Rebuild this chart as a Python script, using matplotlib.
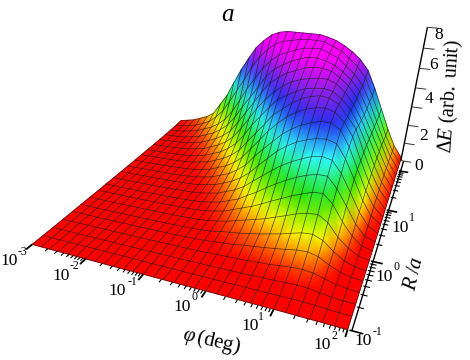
import numpy as np, matplotlib
matplotlib.use('Agg')
import matplotlib.pyplot as plt
from matplotlib.colors import LinearSegmentedColormap, Normalize
from matplotlib.collections import LineCollection
from mpl_toolkits.mplot3d import proj3d

# surface axes: decades of phi (deg) and of R/a
log_phi = [-3, -2.83, -2.67, -2.5, -2.33, -2.17, -2, -1.83, -1.67, -1.5, -1.33, -1.17, -1, -0.83, -0.67, -0.5,
           -0.33, -0.17, 0, 0.17, 0.33, 0.5, 0.67, 0.83, 1, 1.17, 1.33, 1.5, 1.67, 1.83, 2]
log_r = [-1, -0.83, -0.67, -0.5, -0.33, -0.17, 0, 0.17, 0.33, 0.5, 0.67, 0.83, 1, 1.17, 1.33, 1.5, 1.67, 1.83, 2, 2.17, 2.33]
# Delta E, one row per log_r, one value per log_phi
delta_e = [
 [0,0,0,0,0,0,0,0,0,0,0,.01,.01,.01,.01,.01,.01,.01,.02,.02,.02,.02,.02,.02,.02,.02,.01,.01,.01,0,0],
 [0,0,0,0,.01,.01,.01,.01,.01,.02,.02,.02,.02,.03,.03,.03,.03,.04,.04,.04,.05,.05,.06,.06,.07,.08,.08,.06,.03,.01,0],
 [0,0,0,.01,.01,.01,.02,.02,.02,.03,.03,.04,.04,.05,.05,.06,.07,.08,.09,.1,.11,.13,.15,.17,.2,.22,.2,.12,.05,.02,0],
 [0,0,.01,.01,.01,.02,.02,.03,.03,.04,.05,.06,.07,.08,.09,.1,.12,.15,.17,.2,.22,.26,.3,.36,.42,.45,.4,.25,.1,.03,0],
 [0,.01,.01,.01,.02,.02,.03,.03,.04,.05,.06,.07,.08,.1,.12,.15,.2,.25,.3,.4,.45,.52,.6,.68,.78,.82,.7,.4,.17,.05,0],
 [.01,.01,.01,.02,.02,.03,.03,.04,.05,.06,.07,.08,.1,.12,.15,.2,.3,.38,.45,.55,.65,.78,.9,1.05,1.2,1.25,1.05,.6,.25,.08,.01],
 [.01,.01,.02,.02,.03,.03,.04,.05,.06,.07,.08,.1,.12,.15,.2,.3,.4,.55,.7,.85,1.0,1.2,1.4,1.6,1.75,1.8,1.5,.85,.4,.12,.01],
 [.01,.02,.02,.03,.03,.04,.05,.06,.07,.08,.1,.12,.15,.2,.3,.4,.6,.8,1.0,1.25,1.5,1.75,2.0,2.2,2.4,2.45,2.0,1.2,.55,.15,.01],
 [.02,.02,.03,.03,.04,.05,.06,.07,.08,.1,.12,.15,.2,.3,.4,.6,.8,1.1,1.4,1.75,2.05,2.35,2.6,2.8,2.95,2.95,2.4,1.6,.75,.2,.02],
 [.02,.03,.03,.04,.05,.06,.07,.08,.1,.12,.15,.2,.3,.4,.6,.8,1.1,1.5,1.9,2.3,2.65,2.95,3.2,3.4,3.5,3.4,2.8,1.9,.95,.3,.02],
 [.03,.03,.04,.05,.06,.07,.08,.1,.12,.15,.2,.3,.4,.6,.8,1.1,1.5,2.0,2.5,3.0,3.35,3.65,3.85,4.0,4.05,3.9,3.2,2.2,1.15,.4,.03],
 [.03,.04,.05,.06,.07,.08,.1,.12,.15,.2,.3,.4,.6,.8,1.1,1.5,2.1,2.6,3.1,3.6,3.95,4.25,4.45,4.6,4.6,4.3,3.5,2.4,1.3,.5,.03],
 [.04,.05,.06,.07,.08,.1,.12,.15,.2,.3,.4,.6,.8,1.1,1.5,2.1,2.7,3.3,3.8,4.25,4.55,4.8,4.95,5.0,4.85,4.4,3.7,2.5,1.4,.6,.04],
 [.05,.06,.07,.08,.1,.12,.15,.2,.3,.4,.6,.8,1.1,1.5,2.1,2.7,3.3,3.9,4.3,4.7,5.0,5.2,5.3,5.25,5.0,4.4,3.8,2.6,1.5,.65,.05],
 [.06,.07,.08,.1,.12,.15,.2,.3,.4,.6,.8,1.1,1.5,2.1,2.8,3.4,4.0,4.5,4.8,5.1,5.3,5.4,5.45,5.35,5.0,4.5,3.7,2.7,1.6,.7,.06],
 [.07,.08,.1,.12,.15,.2,.3,.4,.6,.8,1.1,1.5,2.1,2.8,3.5,4.1,4.6,5.0,5.3,5.5,5.6,5.7,5.7,5.5,5.1,4.5,3.7,2.7,1.7,.75,.07],
 [.08,.1,.12,.15,.2,.3,.4,.6,.8,1.1,1.5,2.1,2.8,3.5,4.2,4.8,5.2,5.5,5.7,5.9,6.0,6.0,5.9,5.6,5.2,4.6,3.7,2.7,1.7,.8,.08],
 [.1,.12,.15,.2,.3,.4,.6,.8,1.1,1.5,2.1,2.8,3.5,4.2,4.9,5.4,5.7,5.95,6.15,6.3,6.3,6.2,6.0,5.7,5.3,4.7,3.8,2.8,1.8,.8,.09],
 [.12,.15,.2,.3,.4,.6,.8,1.1,1.5,2.1,2.9,3.7,4.4,5.1,5.6,6.0,6.2,6.4,6.55,6.6,6.6,6.4,6.2,5.8,5.4,4.8,3.9,2.8,1.7,.8,.1],
 [.15,.2,.3,.4,.6,.8,1.2,1.7,2.4,3.2,4.0,4.8,5.5,6.0,6.4,6.6,6.7,6.8,6.85,6.85,6.8,6.6,6.4,6.0,5.6,5.0,4.0,2.9,1.7,.8,.1],
 [.2,.3,.4,.6,.8,1.1,1.8,2.5,3.4,4.3,5.1,5.8,6.3,6.7,6.9,7.0,7.0,7.0,7.0,7.0,6.9,6.75,6.5,6.2,5.8,5.2,4.2,3.0,1.8,.8,.1],
]
phi_decades = [-3, -2, -1, 0, 1, 2]
phi_exps = ['-3', '-2', '-1', '0', '1', '2']
r_decades = [-1, 0, 1, 2]
r_exps = ['-1', '0', '1']
z_labels = ['0', '2', '4', '6', '8']

plt.rcParams['mathtext.fontset'] = 'custom'
plt.rcParams['mathtext.rm'] = 'Liberation Serif'
plt.rcParams['mathtext.it'] = 'Liberation Serif:italic'
plt.rcParams['mathtext.bf'] = 'Liberation Serif:bold'
plt.rcParams['font.family'] = ['Liberation Serif', 'DejaVu Serif']

W, H = 470, 360
fig = plt.figure(figsize=(4.7, 3.6), dpi=100, facecolor='white')
ax = fig.add_axes([0, 0, 1, 1], projection='3d', computed_zorder=False)
ax.set_proj_type('persp', focal_length=0.2978)
ax.view_init(elev=23.88, azim=-68.28)
ax.set_xlim(-3, 2, view_margin=0); ax.set_ylim(-1, 2.3, view_margin=0); ax.set_zlim(0, 8, view_margin=0)
ax.set_box_aspect((1, 1.0182, 0.5523), zoom=1.2113)
ax.set_position([-0.0001, 0.1336, 1, 1])
ax.set_axis_off()
ax.patch.set_visible(False)
ax.set_zorder(2)

X, Y = np.meshgrid(log_phi, log_r)
Z = np.array(delta_e)
vmax = 6.2
cmap = LinearSegmentedColormap.from_list('tec', [(0, '#ff0000'), (0.03, '#ff0000'), (1.1/vmax, '#ffff00'), (2.2/vmax, '#22e000'),
                                                (3.4/vmax, '#30ffff'), (4.5/vmax, '#2030f0'), (5.4/vmax, '#9020e8'), (1, '#ff00ff')])
norm = Normalize(0, vmax)

# project the surface with the 3D axes, then shade it smoothly on a pixel-space 2D axes underneath
ax.apply_aspect()
M = ax.get_proj(); ax.M = M
sx, sy, _ = proj3d.proj_transform(X.ravel(), Y.ravel(), Z.ravel(), M)
pts = ax.transData.transform(np.c_[sx, sy])
PX = pts[:, 0].reshape(X.shape); PY = pts[:, 1].reshape(X.shape)
ax2 = fig.add_axes([0, 0, 1, 1]); ax2.set_xlim(0, W); ax2.set_ylim(0, H); ax2.axis('off'); ax2.set_zorder(1)
ax2.pcolormesh(PX[::-1], PY[::-1], Z[::-1], shading='gouraud', cmap=cmap, norm=norm, zorder=1)
rows = [np.c_[PX[i], PY[i]] for i in range(PX.shape[0])]
cols = [np.c_[PX[:, j], PY[:, j]] for j in range(PX.shape[1])]
ax2.add_collection(LineCollection(rows + cols, colors=[(0.12, 0.12, 0.12, 0.8)], linewidths=0.5, zorder=2))

def seg(x0, y0, z0, x1, y1, z1, lw=1.0, color='k', zo=5):
    ax.plot([x0, x1], [y0, y1], [z0, z1], color=color, lw=lw, zorder=zo, clip_on=False, solid_capstyle='butt')

# phi axis ticks
minor = np.log10([2, 3, 4, 5, 6, 7, 8, 9])
for d in phi_decades:
    seg(d, -1, 0, d, -1.09, 0, lw=1.3)
    if d < 2:
        for m in minor:
            seg(d + m, -1, 0, d + m, -1.045, 0, lw=0.8)
# R axis
xr = 2.025
seg(xr, -1, 0, xr, 2.3, 0, lw=1.5, color='white', zo=4)
seg(xr + 0.03, -1, 0, xr + 0.03, 2.3, 0, lw=1.0, zo=5)
for d in r_decades:
    seg(xr, d, 0, 2.2, d, 0, lw=1.2)
    if d < 2:
        for m in minor:
            seg(xr, d + m, 0, 2.12, d + m, 0, lw=0.8)
# vertical axis
xtop = 2.17
seg(2, 2.3, 0, xtop, 2.3, 8, lw=1.0)
for z in np.linspace(0, 8, 8):
    xz = 2 + (xtop - 2) * z / 8
    seg(xz, 2.3, z, xz + 0.2, 2.3, z, lw=0.7, color='#333333')

def T(px, py, s, size=13, rot=0, **kw):
    fig.text(px / W, 1 - py / H, s, fontsize=size, rotation=rot, ha='center', va='center',
             rotation_mode='anchor', **kw)

base_xy = [(9, 261), (61, 276), (117, 291), (182, 307), (250, 326), (322, 345), (363, 341), (384, 277), (400, 228)]
exp_xy = [(22, 252), (74, 266), (132, 282), (194, 297), (261, 317), (334, 336), (377, 332), (396, 267), (412, 218)]
for (bx, by), (ex, ey), e in zip(base_xy, exp_xy, phi_exps + r_exps):
    T(bx, by, '10', size=12.5)
    T(ex, ey, e, size=8.5)
for (px, py), s in zip([(419, 166), (424, 136), (429, 99), (434, 65), (439, 35)], z_labels):
    T(px, py, s, size=12.5)
T(228, 15, 'a', size=18, style='italic')
T(212, 341, r'$\mathit{\varphi}\,\mathregular{(deg)}$', size=15, rot=-13)
T(415, 274, r'$\mathit{R}\;\mathregular{/}\mathit{a}$', size=15, rot=77)
T(450, 96, r'$\mathregular{\Delta}\mathit{E}\ \mathregular{(arb.\ unit)}$', size=14.5, rot=86)

fig.savefig('out.png', dpi=100, facecolor='white')
